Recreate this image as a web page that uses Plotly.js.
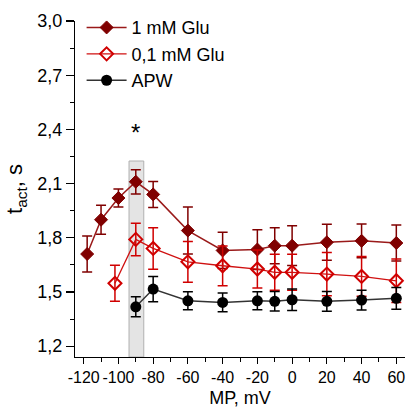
<!DOCTYPE html>
<html>
<head>
<meta charset="utf-8">
<script src="https://cdn.plot.ly/plotly-3.0.1.min.js"></script>
<style>html,body{margin:0;padding:0;background:#fff}#chart{width:408px;height:408px}</style>
</head>
<body>
<div id="chart"></div>
<script>
// Membrane potential (mV)
var mpGlu1 = [-118, -110, -100, -90, -80, -60, -40, -20, -10, 0, 20, 40, 60];
var tGlu1 = [1.71, 1.90, 2.02, 2.11, 2.04, 1.84, 1.73, 1.735, 1.756, 1.756, 1.775, 1.783, 1.771];
var errGlu1 = [0.10, 0.08, 0.05, 0.067, 0.072, 0.13, 0.10, 0.11, 0.10, 0.11, 0.10, 0.093, 0.10];

var mpGlu01 = [-102, -90, -80, -60, -40, -20, -10, 0, 20, 40, 60];
var tGlu01 = [1.548, 1.791, 1.741, 1.667, 1.645, 1.627, 1.609, 1.609, 1.599, 1.586, 1.562];
var errGlu01 = [0.10, 0.09, 0.115, 0.113, 0.11, 0.105, 0.10, 0.10, 0.12, 0.11, 0.12];

var mpAPW = [-90, -80, -60, -40, -20, -10, 0, 20, 40, 60];
var tAPW = [1.418, 1.516, 1.451, 1.442, 1.451, 1.448, 1.457, 1.448, 1.455, 1.465];
var errAPW = [0.055, 0.07, 0.05, 0.052, 0.05, 0.054, 0.06, 0.055, 0.055, 0.06];

var seriesNames = ['1 mM Glu', '0,1 mM Glu', 'APW'];
var xTickVals = [-120, -100, -80, -60, -40, -20, 0, 20, 40, 60];
var xTickText = ['-120', '-100', '-80', '-60', '-40', '-20', '0', '20', '40', '60'];
var yTickVals = [1.2, 1.5, 1.8, 2.1, 2.4, 2.7, 3.0];
var yTickText = ['1,2', '1,5', '1,8', '2,1', '2,4', '2,7', '3,0'];

var FONT = 'Liberation Sans';

var traces = [
  {
    x: mpGlu1, y: tGlu1, name: seriesNames[0], type: 'scatter', mode: 'lines+markers',
    line: {color: '#9a1a1a', width: 1.5},
    marker: {symbol: 'diamond', size: 10, color: '#800000', line: {color: '#800000', width: 1}},
    error_y: {type: 'data', array: errGlu1, visible: true, color: '#800000', thickness: 1.5, width: 5}
  },
  {
    x: mpGlu01, y: tGlu01, name: seriesNames[1], type: 'scatter', mode: 'lines+markers',
    line: {color: '#d01010', width: 1.3},
    marker: {symbol: 'diamond-open', size: 10, color: '#d00000', line: {color: '#d00000', width: 2}},
    error_y: {type: 'data', array: errGlu01, visible: true, color: '#d00000', thickness: 1.5, width: 5}
  },
  {
    x: mpAPW, y: tAPW, name: seriesNames[2], type: 'scatter', mode: 'lines+markers',
    line: {color: '#333333', width: 1.5},
    marker: {symbol: 'circle', size: 11, color: '#000000'},
    error_y: {type: 'data', array: errAPW, visible: true, color: '#000000', thickness: 1.5, width: 5}
  }
];

var layout = {
  width: 408, height: 408,
  margin: {l: 75, r: 3, t: 21, b: 51},
  paper_bgcolor: '#ffffff', plot_bgcolor: '#ffffff',
  font: {family: FONT, size: 17, color: '#000'},
  showlegend: true,
  legend: {x: 0.02, y: 1.035, xanchor: 'left', yanchor: 'top', bgcolor: 'rgba(0,0,0,0)',
           font: {family: FONT, size: 18}, itemwidth: 40, tracegroupgap: 0},
  xaxis: {
    range: [-125, 65], showgrid: false, zeroline: false,
    showline: true, linecolor: '#000', linewidth: 1.2,
    ticks: 'outside', ticklen: 6, tickwidth: 1.2, tickcolor: '#000',
    tickvals: xTickVals, ticktext: xTickText, tickangle: 0,
    minor: {dtick: 10, tick0: 0, ticks: 'outside', ticklen: 4, tickwidth: 1, tickcolor: '#000'},
    tickfont: {family: FONT, size: 16},
    title: {text: 'MP, mV', font: {family: FONT, size: 18}, standoff: 7}
  },
  yaxis: {
    range: [1.14, 3.0], showgrid: false, zeroline: false,
    showline: true, linecolor: '#000', linewidth: 1.2,
    ticks: 'outside', ticklen: 8, tickwidth: 1.2, tickcolor: '#000',
    tickvals: yTickVals, ticktext: yTickText,
    minor: {dtick: 0.15, tick0: 0, ticks: 'outside', ticklen: 4, tickwidth: 1, tickcolor: '#000'},
    tickfont: {family: FONT, size: 18},
    title: {text: 't<sub>act</sub>, s\u00a0\u00a0\u00a0', font: {family: FONT, size: 22}, standoff: 8}
  },
  shapes: [
    {type: 'rect', xref: 'x', yref: 'y', x0: -93.9, x1: -85.4, y0: 1.14, y1: 2.225,
     fillcolor: '#e4e4e4', line: {color: '#b0b0b0', width: 1}, layer: 'below'}
  ],
  annotations: [
    {x: -90, y: 2.385, xref: 'x', yref: 'y', text: '*', showarrow: false, font: {family: FONT, size: 24, color: '#000'}}
  ]
};

Plotly.newPlot('chart', traces, layout, {displayModeBar: false, staticPlot: true});
</script>
</body>
</html>
